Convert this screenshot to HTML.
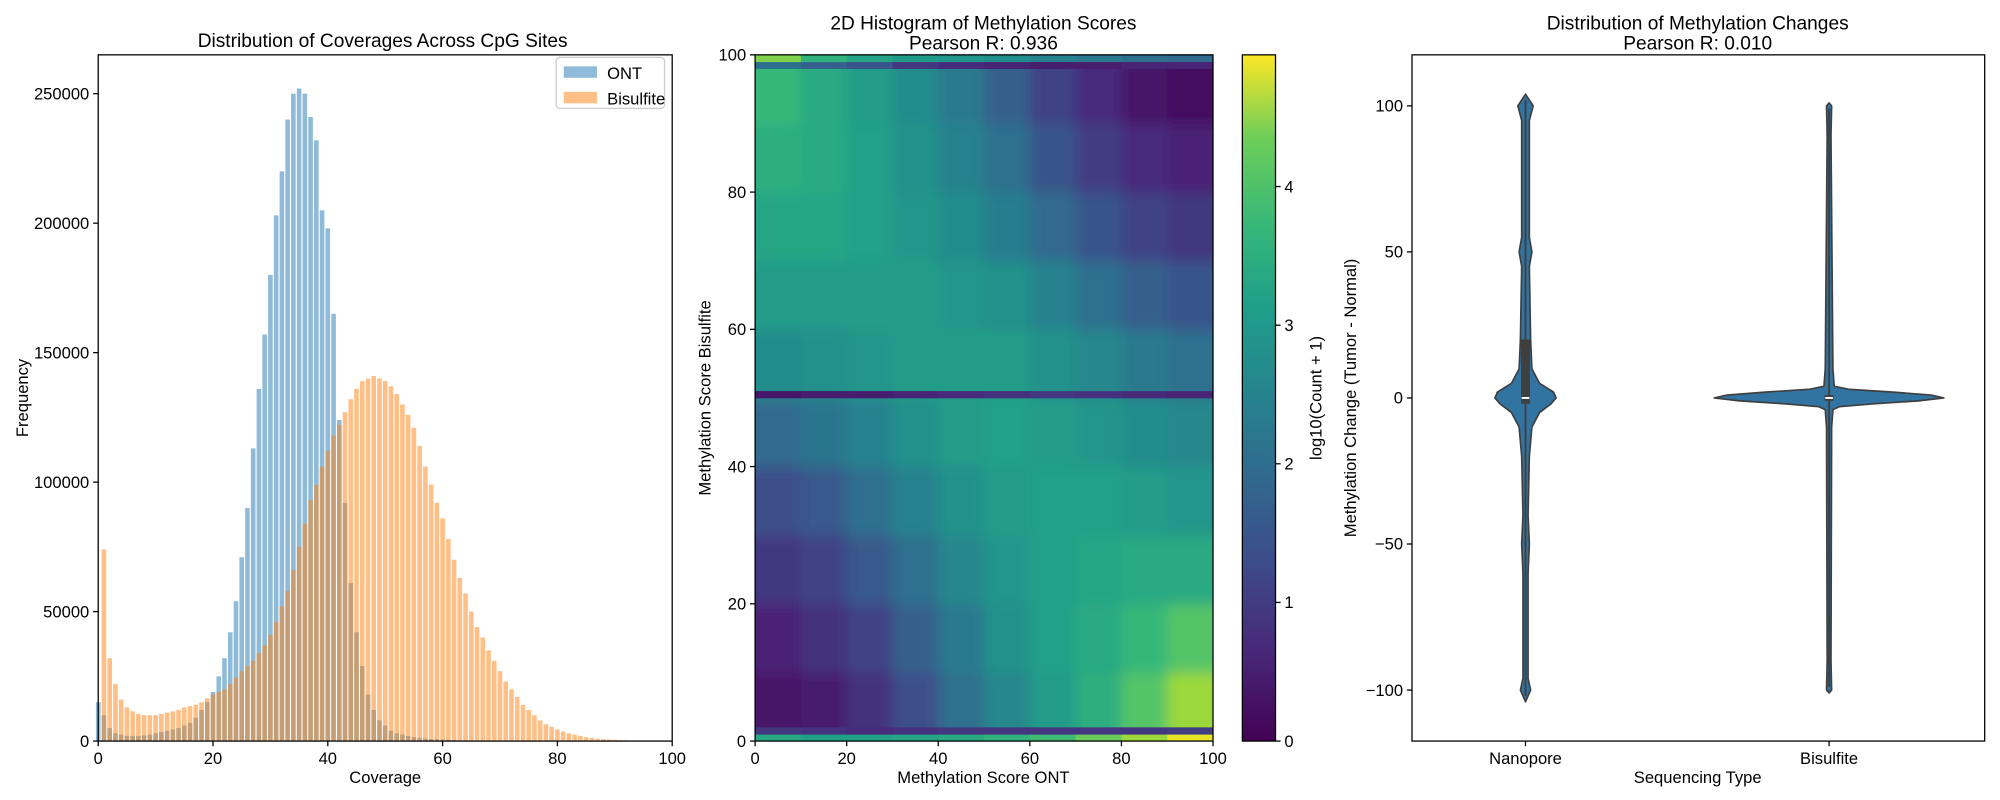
<!DOCTYPE html>
<html><head><meta charset="utf-8"><style>
body{margin:0;background:#fff;}
svg{display:block;font-family:"Liberation Sans","DejaVu Sans",sans-serif;}
</style></head><body>
<svg id="fig" width="2000" height="800" viewBox="0 0 1568 627.2">
<defs>
<clipPath id="hmclip"><rect x="592" y="43" width="359" height="538"/></clipPath>
<filter id="soft" x="0" y="0" width="1" height="1"><feGaussianBlur stdDeviation="5"/></filter>
<linearGradient id="viridis" x1="0" y1="1" x2="0" y2="0">
<stop offset="0" stop-color="#440154"/><stop offset="0.13" stop-color="#482878"/><stop offset="0.25" stop-color="#3e4989"/><stop offset="0.38" stop-color="#31688e"/><stop offset="0.5" stop-color="#26828e"/><stop offset="0.63" stop-color="#1f9e89"/><stop offset="0.75" stop-color="#35b779"/><stop offset="0.88" stop-color="#6ece58"/><stop offset="1" stop-color="#fde725"/>
</linearGradient>
</defs>
<g id="p1"></g>
<g id="p2"></g>
<g id="p3"></g>
</svg>
<script>
// ---------- Panel 1 data ----------
const coverageBins = [];
for (let i = 0; i <= 99; i++) coverageBins.push(i);
const ontCounts = [15000,10000,5000,3000,2500,2000,2000,2000,2200,2500,3000,3500,4000,4500,5000,6000,7000,9000,12000,15000,19000,25000,32000,42000,54000,71000,90000,113000,136000,157000,180000,203000,220000,240000,250000,252000,250000,241000,232000,205000,198000,165000,124000,92000,61000,42000,29000,18000,12000,8000,6000,4000,3000,2500,2000,1500,1200,1000,800,700,600,500,400,300,300,200,200,200,100,100,100,100,100,100,100,100,100,100,100,100,100,100,100,100,100,100,100,100,100,100,100,100,100,100,100,100,100,100,100,100];
const bisCounts = [0,74000,32000,22000,16000,13000,11500,10500,10000,10000,10000,10500,11000,11500,12000,13000,13500,14000,15000,16500,18000,19000,20000,22000,24500,27000,29000,31000,34000,37000,41000,46000,52000,58000,66000,75000,84000,93000,99000,106000,112000,118000,122000,127000,132000,136000,139000,140000,141000,140000,139000,137000,134000,130000,126000,121000,114000,106000,99000,92000,86000,78000,70000,63000,57000,50000,44000,40000,35000,31000,27000,23000,20000,17000,14000,12000,10000,8000,6500,5500,4500,3700,3000,2500,2000,1500,1200,900,700,600,500,400,300,200,150,100,80,60,40,20];
const p1YTicks = [0,50000,100000,150000,200000,250000];
const p1XTicks = [0,20,40,60,80,100];

// ---------- Panel 2 data (log10(count+1), rows bottom->top, cols left->right, 10-unit bins) ----------
const hmRow0  = [0.3,0.4,0.7,1.2,1.8,2.3,2.7,3.1,3.6,4.2];
const hmRow1  = [0.5,0.7,1.0,1.5,2.0,2.5,2.8,3.0,3.3,3.6];
const hmRow2  = [0.8,1.0,1.4,1.8,2.3,2.6,2.8,2.9,3.0,3.0];
const hmRow3  = [1.2,1.4,1.8,2.2,2.5,2.7,2.8,2.8,2.7,2.6];
const hmRow4  = [1.7,1.9,2.2,2.5,2.7,2.8,2.7,2.6,2.4,2.3];
const hmRow5  = [2.4,2.5,2.6,2.7,2.7,2.7,2.5,2.3,2.0,1.8];
const hmRow6  = [2.7,2.7,2.7,2.7,2.6,2.5,2.2,1.8,1.5,1.3];
const hmRow7  = [2.9,2.9,2.8,2.6,2.4,2.1,1.7,1.3,1.0,0.8];
const hmRow8  = [3.1,3.0,2.8,2.5,2.2,1.8,1.3,0.9,0.6,0.5];
const hmRow9  = [3.3,3.0,2.7,2.4,2.0,1.5,1.0,0.6,0.3,0.2];
const hmRows = [hmRow0,hmRow1,hmRow2,hmRow3,hmRow4,hmRow5,hmRow6,hmRow7,hmRow8,hmRow9];
const thinRowY = [0,1,50,98,99];
const thinRowVals = [
 [3.0,2.8,2.8,2.9,3.0,3.2,3.4,3.8,4.2,4.8],
 [0.8,0.7,0.6,0.7,0.8,0.8,0.8,0.8,0.8,0.9],
 [0.3,0.4,0.4,0.5,0.6,0.7,0.8,0.7,0.6,0.5],
 [1.8,1.5,1.3,0.8,0.6,0.5,0.4,0.4,0.5,0.5],
 [4.0,3.2,2.9,2.7,2.6,2.4,2.2,2.0,1.8,1.7]];
const hmTicks = [0,20,40,60,80,100];
const cbTicks = [0,1,2,3,4];
const cbMax = 4.95;

// ---------- Panel 3 data ----------
const violinGroups = ['Nanopore','Bisulfite'];
const nanoY  = [-104,-100,-96,-60,-50,-40,-20,-10,-5,-2,0,2,5,10,20,45,50,55,95,100,104];
const nanoW  = [0,4,2,2,3,2,3,5,11,20,24,22,11,5,4,3,5,3,3,6,0];
const bisY   = [-101,-100,-90,-10,-4,-3,-2,-1,0,1,2,3,4,10,90,100,101];
const bisW   = [0,2,1.5,2,3,8,35,70,90,80,50,15,4,3,1.5,2,0];
const nanoBox = [-2,20];
const bisBox = [-1,1];
const violinYTicks = [-100,-50,0,50,100];

const NS='http://www.w3.org/2000/svg';
function el(tag, attrs, parent, text){
  const e=document.createElementNS(NS,tag);
  for(const k in attrs) e.setAttribute(k,attrs[k]);
  if(text!==undefined) e.textContent=text;
  parent.appendChild(e); return e;
}
const vir=['#440154','#482878','#3e4989','#31688e','#26828e','#1f9e89','#35b779','#6ece58','#b5de2b','#fde725'];
function hex(h){return [parseInt(h.slice(1,3),16),parseInt(h.slice(3,5),16),parseInt(h.slice(5,7),16)];}
function viridis(t){
  t=Math.max(0,Math.min(1,t)); const p=t*(vir.length-1); const i=Math.min(Math.floor(p),vir.length-2); const f=p-i;
  const a=hex(vir[i]),b=hex(vir[i+1]);
  return 'rgb('+a.map((v,k)=>Math.round(v+(b[k]-v)*f)).join(',')+')';
}

// ===== Panel 1 =====
(function(){
  const g=document.getElementById('p1');
  const L=77,R=527,T=43,B=581;
  const xs=v=>L+(v/100)*(R-L);
  const ys=v=>B-(v/265000)*(B-T);
  const bw=0.8*(R-L)/100;
  coverageBins.forEach((c,i)=>{
    const h=B-ys(ontCounts[i]);
    if(h>0){const r=el('rect',{x:xs(c)-bw/2,y:ys(ontCounts[i]),width:bw,height:h,fill:'#1f77b4','fill-opacity':0.5},g);
    
    }
  });
  coverageBins.forEach((c,i)=>{
    const h=B-ys(bisCounts[i]);
    if(h>0){const r=el('rect',{x:xs(c)-bw/2,y:ys(bisCounts[i]),width:bw,height:h,fill:'#ff7f0e','fill-opacity':0.5},g);
    
    }
  });
  el('rect',{x:L,y:T,width:R-L,height:B-T,fill:'none',stroke:'#000','stroke-width':1,},g);
  p1YTicks.forEach(v=>{
    el('line',{x1:L-4,x2:L,y1:ys(v),y2:ys(v),stroke:'#000'},g);
    const t=el('text',{x:L-7,y:ys(v)+4.5,'text-anchor':'end','font-size':13},g,String(v));
    
    
  });
  p1XTicks.forEach(v=>{
    el('line',{x1:xs(v),x2:xs(v),y1:B,y2:B+4,stroke:'#000'},g);
    const t=el('text',{x:xs(v),y:B+18,'text-anchor':'middle','font-size':13},g,String(v));
    
    
  });
  el('text',{x:300,y:37,'text-anchor':'middle','font-size':15,},g,'Distribution of Coverages Across CpG Sites');
  el('text',{x:302,y:614,'text-anchor':'middle','font-size':13,},g,'Coverage');
  el('text',{x:0,y:0,'text-anchor':'middle','font-size':13,transform:'translate(22,312) rotate(-90)',},g,'Frequency');
  const lg=el('g',{},g);
  el('rect',{x:436,y:45,width:85,height:40,rx:3,fill:'#fff',stroke:'#ccc'},lg);
  el('rect',{x:442,y:52,width:26,height:9,fill:'#1f77b4','fill-opacity':0.5},lg);
  el('text',{x:476,y:62,'font-size':13,},lg,'ONT');
  el('rect',{x:442,y:72,width:26,height:9,fill:'#ff7f0e','fill-opacity':0.5},lg);
  el('text',{x:476,y:82,'font-size':13,},lg,'Bisulfite');
})();

// ===== Panel 2 =====
(function(){
  const g=document.getElementById('p2');
  const L=592,R=951,T=43,B=581;
  const xs=v=>L+(v/100)*(R-L);
  const ys=v=>B-(v/100)*(B-T);
  const cells=el('g',{'clip-path':'url(#hmclip)'},g);
  const blur=el('g',{filter:'url(#soft)'},cells);
  hmRows.forEach((row,ri)=>{
    row.forEach((v,ci)=>{
      const x0=ci*10-(ci===0?10:0), x1=ci*10+10+(ci===9?10:0);
      const y0=ri*10-(ri===0?10:0), y1=ri*10+10+(ri===9?10:0);
      const r=el('rect',{x:xs(x0),y:ys(y1),width:xs(x1)-xs(x0)+0.5,height:ys(y0)-ys(y1)+0.5,fill:viridis(v/cbMax)},blur);
      
      
    });
  });
  thinRowY.forEach((yv,ri)=>{
    thinRowVals[ri].forEach((v,ci)=>{
      const r=el('rect',{x:xs(ci*10),y:ys(yv+1),width:xs(10)-xs(0)+0.5,height:ys(yv)-ys(yv+1)+0.3,fill:viridis(v/cbMax)},cells);
      
      
    });
  });
  el('rect',{x:L,y:T,width:R-L,height:B-T,fill:'none',stroke:'#000'},g);
  hmTicks.forEach(v=>{
    el('line',{x1:xs(v),x2:xs(v),y1:B,y2:B+4,stroke:'#000'},g);
    const t=el('text',{x:xs(v),y:B+18,'text-anchor':'middle','font-size':13},g,String(v));
    
    
    el('line',{x1:L-4,x2:L,y1:ys(v),y2:ys(v),stroke:'#000'},g);
    const t2=el('text',{x:L-7,y:ys(v)+4.5,'text-anchor':'end','font-size':13},g,String(v));
    
    
  });
  el('text',{x:771,y:23,'text-anchor':'middle','font-size':15,},g,'2D Histogram of Methylation Scores');
  el('text',{x:771,y:39,'text-anchor':'middle','font-size':15,},g,'Pearson R: 0.936');
  el('text',{x:771,y:614,'text-anchor':'middle','font-size':13,},g,'Methylation Score ONT');
  el('text',{x:0,y:0,'text-anchor':'middle','font-size':13,transform:'translate(557,312) rotate(-90)',},g,'Methylation Score Bisulfite');
  const cb=el('g',{},g);
  const CL=974,CR=1000;
  el('rect',{x:CL,y:T,width:CR-CL,height:B-T,fill:'url(#viridis)',stroke:'#000'},cb);
  cbTicks.forEach(v=>{
    const y=B-(v/cbMax)*(B-T);
    el('line',{x1:CR,x2:CR+4,y1:y,y2:y,stroke:'#000'},cb);
    const t=el('text',{x:CR+7,y:y+4.5,'font-size':13},cb,String(v));
    
    
  });
  el('text',{x:0,y:0,'text-anchor':'middle','font-size':13,transform:'translate(1036,312) rotate(-90)',},cb,'log10(Count + 1)');
})();

// ===== Panel 3 =====
(function(){
  const g=document.getElementById('p3');
  const L=1107,R=1556,T=43,B=581;
  const ys=v=>312-v*2.29;
  const xc=[1196,1434];
  function violin(cx,Y,W,box,name){
    let d='M'+(cx+W[0])+','+ys(Y[0]);
    for(let i=1;i<Y.length;i++) d+=' L'+(cx+W[i])+','+ys(Y[i]);
    for(let i=Y.length-1;i>=0;i--) d+=' L'+(cx-W[i])+','+ys(Y[i]);
    d+='Z';
    const p=el('path',{d:d,fill:'#3274a1',stroke:'#3f3f3f','stroke-width':1.3,'stroke-linejoin':'round'},g);
    
    
    el('line',{x1:cx,x2:cx,y1:ys(Y[0]+2),y2:ys(Y[Y.length-1]-2),stroke:'#3f3f3f','stroke-width':1.5},g);
    el('rect',{x:cx-3.5,y:ys(box[1]),width:7,height:ys(box[0])-ys(box[1]),fill:'#3f3f3f'},g);
    el('line',{x1:cx-3,x2:cx+3,y1:ys(0),y2:ys(0),stroke:'#fff','stroke-width':1.5},g);
  }
  violin(xc[0],nanoY,nanoW,nanoBox,'nanopore');
  violin(xc[1],bisY,bisW,bisBox,'bisulfite');
  el('rect',{x:L,y:T,width:R-L,height:B-T,fill:'none',stroke:'#000'},g);
  violinYTicks.forEach(v=>{
    el('line',{x1:L-4,x2:L,y1:ys(v),y2:ys(v),stroke:'#000'},g);
    const t=el('text',{x:L-7,y:ys(v)+4.5,'text-anchor':'end','font-size':13},g,String(v).replace('-','\u2212'));
    
    
  });
  violinGroups.forEach((n,i)=>{
    el('line',{x1:xc[i],x2:xc[i],y1:B,y2:B+4,stroke:'#000'},g);
    const t=el('text',{x:xc[i],y:B+18,'text-anchor':'middle','font-size':13},g,n);
    
    
  });
  el('text',{x:1331,y:23,'text-anchor':'middle','font-size':15,},g,'Distribution of Methylation Changes');
  el('text',{x:1331,y:39,'text-anchor':'middle','font-size':15,},g,'Pearson R: 0.010');
  el('text',{x:1331,y:614,'text-anchor':'middle','font-size':13,},g,'Sequencing Type');
  el('text',{x:0,y:0,'text-anchor':'middle','font-size':13,transform:'translate(1063,312) rotate(-90)',},g,'Methylation Change (Tumor - Normal)');
})();
</script>
</body></html>
